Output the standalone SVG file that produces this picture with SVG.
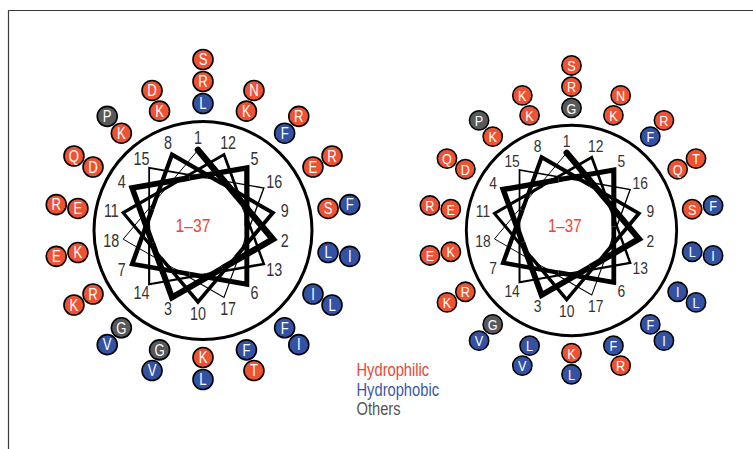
<svg xmlns="http://www.w3.org/2000/svg" width="753" height="449" viewBox="0 0 753 449">
<style>
text{font-family:"Liberation Sans",Arial,sans-serif}
.frame{fill:none;stroke:#3c3c3c;stroke-width:1.2}
.ring{fill:none;stroke:#000;stroke-width:3}
.num{font-size:17.5px;fill:#333;text-anchor:middle}
.lbl{font-size:18.5px;fill:#ee4433;text-anchor:middle}
.res circle{stroke:#000;stroke-width:1.6}
.res text{fill:#fff;font-size:16px;text-anchor:middle}
.h circle{fill:#ee5233}
.b circle{fill:#3352a4}
.o circle{fill:#58595b}
.seg{fill:none;stroke:#000;stroke-linejoin:miter}
.leg{font-size:17.5px}
</style>
<defs>
<g id="star" class="seg">
<path stroke-width="6.5" stroke-linecap="round" d="M0,-76 L37.42,-31.4"/>
<polyline stroke-width="6.33" points="37.42,-31.4 74.84,13.2 24.43,42.31"/>
<polyline stroke-width="5.98" points="24.43,42.31 -25.99,71.42 -45.91,16.71"/>
<polyline stroke-width="5.63" points="-45.91,16.71 -65.82,-38 -8.49,-48.11"/>
<polyline stroke-width="5.28" points="-8.49,-48.11 48.85,-58.22 48.85,0"/>
<polyline stroke-width="4.93" points="48.85,0 48.85,58.22 -8.49,48.11"/>
<polyline stroke-width="4.58" points="-8.49,48.11 -65.82,38 -45.91,-16.71"/>
<polyline stroke-width="4.23" points="-45.91,-16.71 -25.99,-71.42 24.43,-42.31"/>
<polyline stroke-width="3.88" points="24.43,-42.31 74.84,-13.2 37.42,31.4"/>
<polyline stroke-width="3.53" points="37.42,31.4 0,76 -37.42,31.4"/>
<polyline stroke-width="3.18" points="-37.42,31.4 -74.84,-13.2 -24.43,-42.31"/>
<polyline stroke-width="2.83" points="-24.43,-42.31 25.99,-71.42 45.91,-16.71"/>
<polyline stroke-width="2.48" points="45.91,-16.71 65.82,38 8.49,48.11"/>
<polyline stroke-width="2.13" points="8.49,48.11 -48.85,58.22 -48.85,0"/>
<polyline stroke-width="1.78" points="-48.85,0 -48.85,-58.22 8.49,-48.11"/>
<polyline stroke-width="1.43" points="8.49,-48.11 65.82,-38 45.91,16.71"/>
<polyline stroke-width="1.13" points="45.91,16.71 25.99,71.42 -24.43,42.31"/>
<polyline stroke-width="1" points="-24.43,42.31 -74.84,13.2 -37.42,-31.4"/>
<path stroke-width="1" d="M-37.42,-31.4 L0,-76"/>
</g>
</defs>

<path class="frame" d="M8.5,449 V10.5 H753"/>

<g id="wheel-left" transform="translate(203,230.5)">
<circle class="ring" r="109"/>
<g id="wheel-left-core" transform="translate(-5,-4.5)">
<use href="#star"/>
<g class="num">
<text transform="rotate(0) translate(0,-88) rotate(0) scale(0.82,1)" y="6">1</text>
<text transform="rotate(100) translate(0,-88) rotate(-100) scale(0.82,1)" y="6">2</text>
<text transform="rotate(200) translate(0,-88) rotate(-200) scale(0.82,1)" y="6">3</text>
<text transform="rotate(300) translate(0,-88) rotate(-300) scale(0.82,1)" y="6">4</text>
<text transform="rotate(40) translate(0,-88) rotate(-40) scale(0.82,1)" y="6">5</text>
<text transform="rotate(140) translate(0,-88) rotate(-140) scale(0.82,1)" y="6">6</text>
<text transform="rotate(240) translate(0,-88) rotate(-240) scale(0.82,1)" y="6">7</text>
<text transform="rotate(340) translate(0,-88) rotate(-340) scale(0.82,1)" y="6">8</text>
<text transform="rotate(80) translate(0,-88) rotate(-80) scale(0.82,1)" y="6">9</text>
<text transform="rotate(180) translate(0,-88) rotate(-180) scale(0.82,1)" y="6">10</text>
<text transform="rotate(280) translate(0,-88) rotate(-280) scale(0.82,1)" y="6">11</text>
<text transform="rotate(20) translate(0,-88) rotate(-20) scale(0.82,1)" y="6">12</text>
<text transform="rotate(120) translate(0,-88) rotate(-120) scale(0.82,1)" y="6">13</text>
<text transform="rotate(220) translate(0,-88) rotate(-220) scale(0.82,1)" y="6">14</text>
<text transform="rotate(320) translate(0,-88) rotate(-320) scale(0.82,1)" y="6">15</text>
<text transform="rotate(60) translate(0,-88) rotate(-60) scale(0.82,1)" y="6">16</text>
<text transform="rotate(160) translate(0,-88) rotate(-160) scale(0.82,1)" y="6">17</text>
<text transform="rotate(260) translate(0,-88) rotate(-260) scale(0.82,1)" y="6">18</text>
</g>
<text class="lbl" transform="translate(-5,0) scale(0.85,1)" y="6">1–37</text>
</g>
<g id="L1a" class="res b" transform="rotate(0) translate(0,-127) rotate(0)"><circle r="10"/><text transform="scale(0.82,1)" y="5.8">L</text></g>
<g id="L1b" class="res h" transform="rotate(0) translate(0,-149) rotate(0)"><circle r="10"/><text transform="scale(0.82,1)" y="5.8">R</text></g>
<g id="L1c" class="res h" transform="rotate(0) translate(0,-171) rotate(0)"><circle r="10"/><text transform="scale(0.82,1)" y="5.8">S</text></g>
<g id="L2a" class="res b" transform="rotate(100) translate(0,-127) rotate(-100)"><circle r="10"/><text transform="scale(0.82,1)" y="5.8">L</text></g>
<g id="L2b" class="res b" transform="rotate(100) translate(0,-149) rotate(-100)"><circle r="10"/><text transform="scale(0.82,1)" y="5.8">I</text></g>
<g id="L3a" class="res o" transform="rotate(200) translate(0,-127) rotate(-200)"><circle r="10"/><text transform="scale(0.82,1)" y="5.8">G</text></g>
<g id="L3b" class="res b" transform="rotate(200) translate(0,-149) rotate(-200)"><circle r="10"/><text transform="scale(0.82,1)" y="5.8">V</text></g>
<g id="L4a" class="res h" transform="rotate(300) translate(0,-127) rotate(-300)"><circle r="10"/><text transform="scale(0.82,1)" y="5.8">D</text></g>
<g id="L4b" class="res h" transform="rotate(300) translate(0,-149) rotate(-300)"><circle r="10"/><text transform="scale(0.82,1)" y="5.8">Q</text></g>
<g id="L5a" class="res b" transform="rotate(40) translate(0,-127) rotate(-40)"><circle r="10"/><text transform="scale(0.82,1)" y="5.8">F</text></g>
<g id="L5b" class="res h" transform="rotate(40) translate(0,-149) rotate(-40)"><circle r="10"/><text transform="scale(0.82,1)" y="5.8">R</text></g>
<g id="L6a" class="res b" transform="rotate(140) translate(0,-127) rotate(-140)"><circle r="10"/><text transform="scale(0.82,1)" y="5.8">F</text></g>
<g id="L6b" class="res b" transform="rotate(140) translate(0,-149) rotate(-140)"><circle r="10"/><text transform="scale(0.82,1)" y="5.8">I</text></g>
<g id="L7a" class="res h" transform="rotate(240) translate(0,-127) rotate(-240)"><circle r="10"/><text transform="scale(0.82,1)" y="5.8">R</text></g>
<g id="L7b" class="res h" transform="rotate(240) translate(0,-149) rotate(-240)"><circle r="10"/><text transform="scale(0.82,1)" y="5.8">K</text></g>
<g id="L8a" class="res h" transform="rotate(340) translate(0,-127) rotate(-340)"><circle r="10"/><text transform="scale(0.82,1)" y="5.8">K</text></g>
<g id="L8b" class="res h" transform="rotate(340) translate(0,-149) rotate(-340)"><circle r="10"/><text transform="scale(0.82,1)" y="5.8">D</text></g>
<g id="L9a" class="res h" transform="rotate(80) translate(0,-127) rotate(-80)"><circle r="10"/><text transform="scale(0.82,1)" y="5.8">S</text></g>
<g id="L9b" class="res b" transform="rotate(80) translate(0,-149) rotate(-80)"><circle r="10"/><text transform="scale(0.82,1)" y="5.8">F</text></g>
<g id="L10a" class="res h" transform="rotate(180) translate(0,-127) rotate(-180)"><circle r="10"/><text transform="scale(0.82,1)" y="5.8">K</text></g>
<g id="L10b" class="res b" transform="rotate(180) translate(0,-149) rotate(-180)"><circle r="10"/><text transform="scale(0.82,1)" y="5.8">L</text></g>
<g id="L11a" class="res h" transform="rotate(280) translate(0,-127) rotate(-280)"><circle r="10"/><text transform="scale(0.82,1)" y="5.8">E</text></g>
<g id="L11b" class="res h" transform="rotate(280) translate(0,-149) rotate(-280)"><circle r="10"/><text transform="scale(0.82,1)" y="5.8">R</text></g>
<g id="L12a" class="res h" transform="rotate(20) translate(0,-127) rotate(-20)"><circle r="10"/><text transform="scale(0.82,1)" y="5.8">K</text></g>
<g id="L12b" class="res h" transform="rotate(20) translate(0,-149) rotate(-20)"><circle r="10"/><text transform="scale(0.82,1)" y="5.8">N</text></g>
<g id="L13a" class="res b" transform="rotate(120) translate(0,-127) rotate(-120)"><circle r="10"/><text transform="scale(0.82,1)" y="5.8">I</text></g>
<g id="L13b" class="res b" transform="rotate(120) translate(0,-149) rotate(-120)"><circle r="10"/><text transform="scale(0.82,1)" y="5.8">L</text></g>
<g id="L14a" class="res o" transform="rotate(220) translate(0,-127) rotate(-220)"><circle r="10"/><text transform="scale(0.82,1)" y="5.8">G</text></g>
<g id="L14b" class="res b" transform="rotate(220) translate(0,-149) rotate(-220)"><circle r="10"/><text transform="scale(0.82,1)" y="5.8">V</text></g>
<g id="L15a" class="res h" transform="rotate(320) translate(0,-127) rotate(-320)"><circle r="10"/><text transform="scale(0.82,1)" y="5.8">K</text></g>
<g id="L15b" class="res o" transform="rotate(320) translate(0,-149) rotate(-320)"><circle r="10"/><text transform="scale(0.82,1)" y="5.8">P</text></g>
<g id="L16a" class="res h" transform="rotate(60) translate(0,-127) rotate(-60)"><circle r="10"/><text transform="scale(0.82,1)" y="5.8">E</text></g>
<g id="L16b" class="res h" transform="rotate(60) translate(0,-149) rotate(-60)"><circle r="10"/><text transform="scale(0.82,1)" y="5.8">R</text></g>
<g id="L17a" class="res b" transform="rotate(160) translate(0,-127) rotate(-160)"><circle r="10"/><text transform="scale(0.82,1)" y="5.8">F</text></g>
<g id="L17b" class="res h" transform="rotate(160) translate(0,-149) rotate(-160)"><circle r="10"/><text transform="scale(0.82,1)" y="5.8">T</text></g>
<g id="L18a" class="res h" transform="rotate(260) translate(0,-127) rotate(-260)"><circle r="10"/><text transform="scale(0.82,1)" y="5.8">K</text></g>
<g id="L18b" class="res h" transform="rotate(260) translate(0,-149) rotate(-260)"><circle r="10"/><text transform="scale(0.82,1)" y="5.8">E</text></g>
</g>

<g id="wheel-right" transform="translate(571.5,230.5) scale(0.965)">
<circle class="ring" r="109"/>
<g id="wheel-right-core" transform="translate(-5,-4.5)">
<use href="#star"/>
<g class="num">
<text transform="rotate(0) translate(0,-88) rotate(0) scale(0.82,1)" y="6">1</text>
<text transform="rotate(100) translate(0,-88) rotate(-100) scale(0.82,1)" y="6">2</text>
<text transform="rotate(200) translate(0,-88) rotate(-200) scale(0.82,1)" y="6">3</text>
<text transform="rotate(300) translate(0,-88) rotate(-300) scale(0.82,1)" y="6">4</text>
<text transform="rotate(40) translate(0,-88) rotate(-40) scale(0.82,1)" y="6">5</text>
<text transform="rotate(140) translate(0,-88) rotate(-140) scale(0.82,1)" y="6">6</text>
<text transform="rotate(240) translate(0,-88) rotate(-240) scale(0.82,1)" y="6">7</text>
<text transform="rotate(340) translate(0,-88) rotate(-340) scale(0.82,1)" y="6">8</text>
<text transform="rotate(80) translate(0,-88) rotate(-80) scale(0.82,1)" y="6">9</text>
<text transform="rotate(180) translate(0,-88) rotate(-180) scale(0.82,1)" y="6">10</text>
<text transform="rotate(280) translate(0,-88) rotate(-280) scale(0.82,1)" y="6">11</text>
<text transform="rotate(20) translate(0,-88) rotate(-20) scale(0.82,1)" y="6">12</text>
<text transform="rotate(120) translate(0,-88) rotate(-120) scale(0.82,1)" y="6">13</text>
<text transform="rotate(220) translate(0,-88) rotate(-220) scale(0.82,1)" y="6">14</text>
<text transform="rotate(320) translate(0,-88) rotate(-320) scale(0.82,1)" y="6">15</text>
<text transform="rotate(60) translate(0,-88) rotate(-60) scale(0.82,1)" y="6">16</text>
<text transform="rotate(160) translate(0,-88) rotate(-160) scale(0.82,1)" y="6">17</text>
<text transform="rotate(260) translate(0,-88) rotate(-260) scale(0.82,1)" y="6">18</text>
</g>
<text class="lbl" transform="translate(-2,0) scale(0.85,1)" y="6">1–37</text>
</g>
<g id="R1a" class="res o" transform="rotate(0) translate(0,-127) rotate(0)"><circle r="10"/><text transform="scale(0.82,1)" y="5.8">G</text></g>
<g id="R1b" class="res h" transform="rotate(0) translate(0,-149) rotate(0)"><circle r="10"/><text transform="scale(0.82,1)" y="5.8">R</text></g>
<g id="R1c" class="res h" transform="rotate(0) translate(0,-171) rotate(0)"><circle r="10"/><text transform="scale(0.82,1)" y="5.8">S</text></g>
<g id="R2a" class="res b" transform="rotate(100) translate(0,-127) rotate(-100)"><circle r="10"/><text transform="scale(0.82,1)" y="5.8">L</text></g>
<g id="R2b" class="res b" transform="rotate(100) translate(0,-149) rotate(-100)"><circle r="10"/><text transform="scale(0.82,1)" y="5.8">I</text></g>
<g id="R3a" class="res b" transform="rotate(200) translate(0,-127) rotate(-200)"><circle r="10"/><text transform="scale(0.82,1)" y="5.8">L</text></g>
<g id="R3b" class="res b" transform="rotate(200) translate(0,-149) rotate(-200)"><circle r="10"/><text transform="scale(0.82,1)" y="5.8">V</text></g>
<g id="R4a" class="res h" transform="rotate(300) translate(0,-127) rotate(-300)"><circle r="10"/><text transform="scale(0.82,1)" y="5.8">D</text></g>
<g id="R4b" class="res h" transform="rotate(300) translate(0,-149) rotate(-300)"><circle r="10"/><text transform="scale(0.82,1)" y="5.8">Q</text></g>
<g id="R5a" class="res b" transform="rotate(40) translate(0,-127) rotate(-40)"><circle r="10"/><text transform="scale(0.82,1)" y="5.8">F</text></g>
<g id="R5b" class="res h" transform="rotate(40) translate(0,-149) rotate(-40)"><circle r="10"/><text transform="scale(0.82,1)" y="5.8">R</text></g>
<g id="R6a" class="res b" transform="rotate(140) translate(0,-127) rotate(-140)"><circle r="10"/><text transform="scale(0.82,1)" y="5.8">F</text></g>
<g id="R6b" class="res b" transform="rotate(140) translate(0,-149) rotate(-140)"><circle r="10"/><text transform="scale(0.82,1)" y="5.8">I</text></g>
<g id="R7a" class="res h" transform="rotate(240) translate(0,-127) rotate(-240)"><circle r="10"/><text transform="scale(0.82,1)" y="5.8">R</text></g>
<g id="R7b" class="res h" transform="rotate(240) translate(0,-149) rotate(-240)"><circle r="10"/><text transform="scale(0.82,1)" y="5.8">K</text></g>
<g id="R8a" class="res h" transform="rotate(340) translate(0,-127) rotate(-340)"><circle r="10"/><text transform="scale(0.82,1)" y="5.8">K</text></g>
<g id="R8b" class="res h" transform="rotate(340) translate(0,-149) rotate(-340)"><circle r="10"/><text transform="scale(0.82,1)" y="5.8">K</text></g>
<g id="R9a" class="res h" transform="rotate(80) translate(0,-127) rotate(-80)"><circle r="10"/><text transform="scale(0.82,1)" y="5.8">S</text></g>
<g id="R9b" class="res b" transform="rotate(80) translate(0,-149) rotate(-80)"><circle r="10"/><text transform="scale(0.82,1)" y="5.8">F</text></g>
<g id="R10a" class="res h" transform="rotate(180) translate(0,-127) rotate(-180)"><circle r="10"/><text transform="scale(0.82,1)" y="5.8">K</text></g>
<g id="R10b" class="res b" transform="rotate(180) translate(0,-149) rotate(-180)"><circle r="10"/><text transform="scale(0.82,1)" y="5.8">L</text></g>
<g id="R11a" class="res h" transform="rotate(280) translate(0,-127) rotate(-280)"><circle r="10"/><text transform="scale(0.82,1)" y="5.8">E</text></g>
<g id="R11b" class="res h" transform="rotate(280) translate(0,-149) rotate(-280)"><circle r="10"/><text transform="scale(0.82,1)" y="5.8">R</text></g>
<g id="R12a" class="res h" transform="rotate(20) translate(0,-127) rotate(-20)"><circle r="10"/><text transform="scale(0.82,1)" y="5.8">K</text></g>
<g id="R12b" class="res h" transform="rotate(20) translate(0,-149) rotate(-20)"><circle r="10"/><text transform="scale(0.82,1)" y="5.8">N</text></g>
<g id="R13a" class="res b" transform="rotate(120) translate(0,-127) rotate(-120)"><circle r="10"/><text transform="scale(0.82,1)" y="5.8">I</text></g>
<g id="R13b" class="res b" transform="rotate(120) translate(0,-149) rotate(-120)"><circle r="10"/><text transform="scale(0.82,1)" y="5.8">L</text></g>
<g id="R14a" class="res o" transform="rotate(220) translate(0,-127) rotate(-220)"><circle r="10"/><text transform="scale(0.82,1)" y="5.8">G</text></g>
<g id="R14b" class="res b" transform="rotate(220) translate(0,-149) rotate(-220)"><circle r="10"/><text transform="scale(0.82,1)" y="5.8">V</text></g>
<g id="R15a" class="res h" transform="rotate(320) translate(0,-127) rotate(-320)"><circle r="10"/><text transform="scale(0.82,1)" y="5.8">K</text></g>
<g id="R15b" class="res o" transform="rotate(320) translate(0,-149) rotate(-320)"><circle r="10"/><text transform="scale(0.82,1)" y="5.8">P</text></g>
<g id="R16a" class="res h" transform="rotate(60) translate(0,-127) rotate(-60)"><circle r="10"/><text transform="scale(0.82,1)" y="5.8">Q</text></g>
<g id="R16b" class="res h" transform="rotate(60) translate(0,-149) rotate(-60)"><circle r="10"/><text transform="scale(0.82,1)" y="5.8">T</text></g>
<g id="R17a" class="res b" transform="rotate(160) translate(0,-127) rotate(-160)"><circle r="10"/><text transform="scale(0.82,1)" y="5.8">F</text></g>
<g id="R17b" class="res h" transform="rotate(160) translate(0,-149) rotate(-160)"><circle r="10"/><text transform="scale(0.82,1)" y="5.8">R</text></g>
<g id="R18a" class="res h" transform="rotate(260) translate(0,-127) rotate(-260)"><circle r="10"/><text transform="scale(0.82,1)" y="5.8">K</text></g>
<g id="R18b" class="res h" transform="rotate(260) translate(0,-149) rotate(-260)"><circle r="10"/><text transform="scale(0.82,1)" y="5.8">E</text></g>
</g>

<g id="legend" class="leg">
<text transform="translate(356.5,376) scale(0.84,1)" fill="#ee4433">Hydrophilic</text>
<text transform="translate(356.5,395.5) scale(0.84,1)" fill="#3a55a8">Hydrophobic</text>
<text transform="translate(356.5,415) scale(0.84,1)" fill="#555555">Others</text>
</g>
</svg>
